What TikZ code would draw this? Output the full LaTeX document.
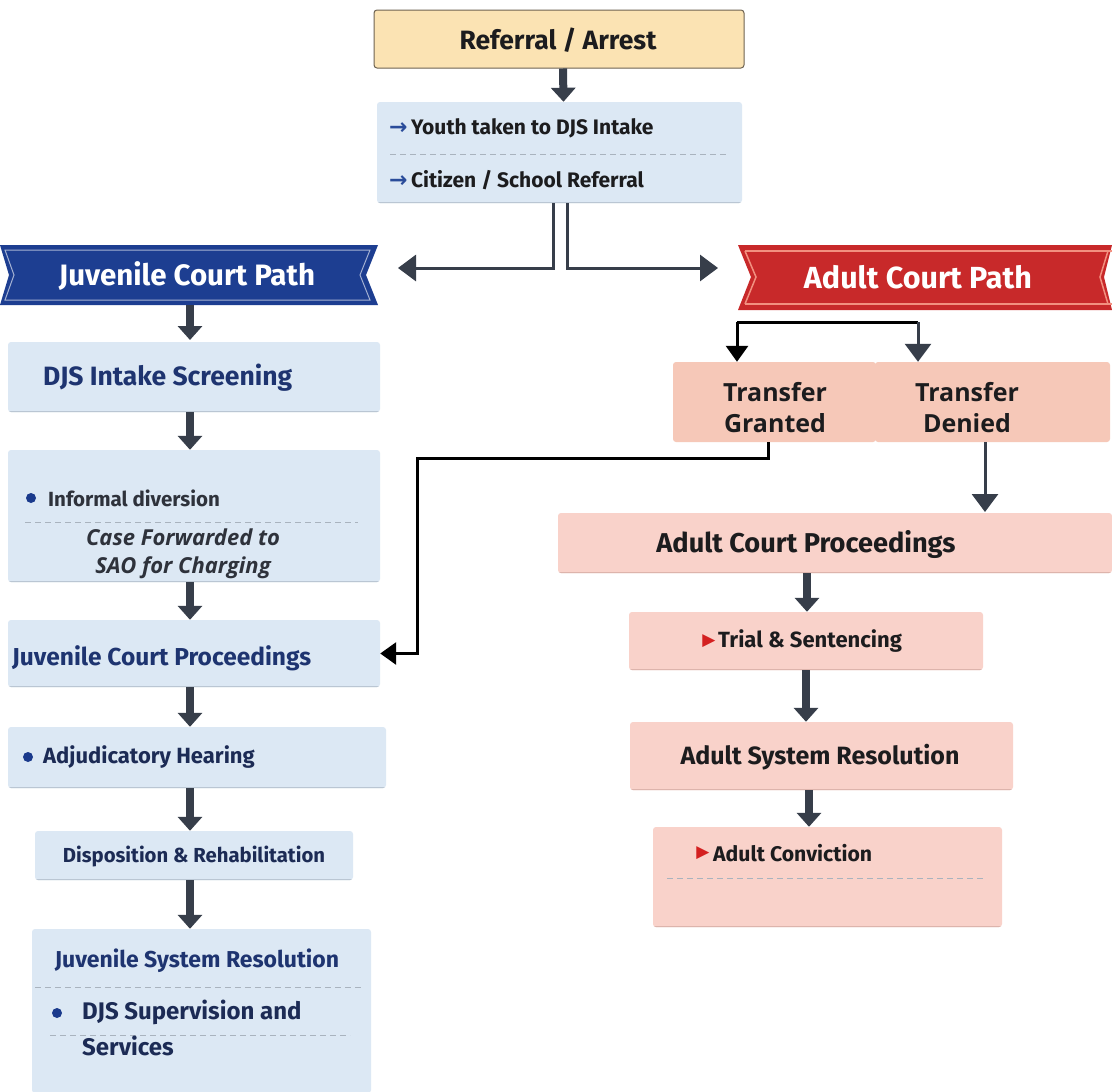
\documentclass[tikz,border=0pt]{standalone}
\usepackage{fontspec}
\setmainfont{Fira Sans}
\newfontfamily\osans{Open Sans}
\newfontfamily\djv{DejaVu Sans}
\usetikzlibrary{arrows.meta,calc}
\definecolor{lb}{HTML}{DCE8F4}
\definecolor{pk}{HTML}{F9D2CA}
\definecolor{sal}{HTML}{F6C8B8}
\definecolor{yel}{HTML}{FBE3B3}
\definecolor{yelb}{HTML}{6E6352}
\definecolor{navy}{HTML}{1D3E91}
\definecolor{navyt}{HTML}{1E3470}
\definecolor{navyd}{HTML}{1C2B55}
\definecolor{redr}{HTML}{C8292A}
\definecolor{redl}{HTML}{F29080}
\definecolor{arr}{HTML}{373E4A}
\definecolor{txt}{HTML}{1C1C1E}
\definecolor{gtxt}{HTML}{2E323B}
\definecolor{dsh}{HTML}{A9B3BE}
\definecolor{shb}{HTML}{BAC6D3}
\definecolor{shp}{HTML}{DDB4AC}
\definecolor{bul}{HTML}{1A3A8C}
\definecolor{tri}{HTML}{D42020}
\definecolor{arrb}{HTML}{2A4C9A}
\newcommand{\rarr}{{\djv\bfseries\color{arrb}\fontsize{22}{22}\selectfont →}}
\begin{document}
\begin{tikzpicture}[x=1pt,y=-1pt,
  box/.style={rectangle, rounded corners=3pt, inner sep=0pt, draw=none},
  bluebox/.style={box, fill=lb, path picture={\draw[line width=2.5pt, shb] (path picture bounding box.south west) -- (path picture bounding box.south east);}},
  pinkbox/.style={box, fill=pk, path picture={\draw[line width=2.5pt, shp] (path picture bounding box.south west) -- (path picture bounding box.south east);}},
  fat/.style={draw=arr, line width=8pt, -{Triangle[width=24pt,length=14pt]}},
  conn/.style={draw=arr, line width=3pt, -{Triangle[width=26pt,length=18pt]}},
  bconn/.style={draw=black, line width=3pt, -{Triangle[width=22pt,length=16pt]}},
  sep/.style={draw=dsh, line width=1pt, dash pattern=on 6pt off 4pt},
  dot/.style={circle, fill=bul, inner sep=0pt, minimum size=10pt},
  tmark/.style={inner sep=0pt, text=tri, font=\djv\fontsize{17}{17}\selectfont},
  t/.style={inner sep=0pt, font=\bfseries},
]
\useasboundingbox (0,0) rectangle (1112,1092);
\fill[white] (0,0) rectangle (1112,1092);

% ---------------- top
\node[box, fill=yel, draw=yelb, line width=1pt, minimum width=370pt, minimum height=58pt] (ref) at (559,39) {};
\node[t, text=txt, font=\bfseries\fontsize{26.5}{30}\selectfont] (reft) at (558,40) {Referral / Arrest};

\node[bluebox, minimum width=365pt, minimum height=101pt] (intake) at (559.5,152.5) {};
\node[t, anchor=west, text=txt, font=\bfseries\fontsize{21}{25}\selectfont] (in1) at (389,128) {\rarr\,Youth taken to DJS Intake};
\draw[sep] (390,154) -- (728,154);
\node[t, anchor=west, text=txt, font=\bfseries\fontsize{21}{25}\selectfont] (in2) at (389,180) {\rarr\,Citizen / School Referral};

\draw[fat] ([xshift=4pt]ref.south) -- ([xshift=4pt]intake.north);

% ---------------- ribbons
\fill[navy] (0,245) -- (378,245) -- (366,275) -- (378,305) -- (0,305) -- (9,275) -- cycle;
\draw[white!60!navy, line width=1pt] (5,250) -- (370,250) -- (360,275) -- (370,300) -- (5,300) -- (14,275) -- cycle;
\node[t, text=white, font=\bfseries\fontsize{29.5}{32}\selectfont] (juv) at (187,276) {Juvenile Court Path};

\fill[redr] (738,245) -- (1112,245) -- (1104,277) -- (1112,310) -- (738,310) -- (751,277) -- cycle;
\draw[redl, line width=1.5pt] (745,251) -- (1112,251);
\draw[redl, line width=1.5pt] (745,304) -- (1112,304);
\draw[redl, line width=1.5pt] (745,251) -- (756,277) -- (745,304);
\draw[redl, line width=1.5pt] (1108,251) -- (1100,277) -- (1108,304);
\node[t, text=white, font=\bfseries\fontsize{30.5}{32}\selectfont] (adu) at (918,277) {Adult Court Path};

% split connectors
\coordinate (jl) at (398,268);
\coordinate (ar) at (718,268);
\draw[conn] ([xshift=-6.5pt]intake.south) |- (jl);
\draw[conn] ([xshift=7.5pt]intake.south) |- (ar);

% ---------------- juvenile column
\node[bluebox, minimum width=372pt, minimum height=70pt] (scr) at (194,377) {};
\node[t, anchor=west, text=navyt, font=\bfseries\fontsize{26.5}{30}\selectfont] (scrt) at (43,378) {DJS Intake Screening};
\draw[fat] (190,305) -- (190,340);

\node[bluebox, minimum width=372pt, minimum height=132pt] (div) at (194,516) {};
\node[dot] (d1) at (31,498) {};
\node[t, anchor=west, text=gtxt, font=\bfseries\fontsize{20.5}{24}\selectfont] (divt) at (48,498) {Informal diversion};
\draw[sep] (25,522) -- (358,522);
\node[inner sep=0pt, text=gtxt, align=center, font=\osans\bfseries\itshape\fontsize{22}{28}\selectfont] (saot) at (183,554) {Case Forwarded to\\SAO for Charging};
\draw[fat] (scr.south -| 190,0) -- (div.north -| 190,0);

\node[bluebox, minimum width=372pt, minimum height=67pt] (jcp) at (194,653.5) {};
\node[t, anchor=west, text=navyt, font=\bfseries\fontsize{24.5}{28}\selectfont] (jcpt) at (12,658) {Juvenile Court Proceedings};
\draw[fat] (div.south -| 190,0) -- (jcp.north -| 190,0);

\node[bluebox, minimum width=378pt, minimum height=61pt] (adj) at (197,757.5) {};
\node[dot] (d2) at (28,757) {};
\node[t, anchor=west, text=navyd, font=\bfseries\fontsize{22}{25}\selectfont] (adjt) at (43,757) {Adjudicatory Hearing};
\draw[fat] (jcp.south -| 190,0) -- (adj.north -| 190,0);

\node[bluebox, minimum width=318pt, minimum height=49pt] (dis) at (194,855.5) {};
\node[t, text=navyd, font=\bfseries\fontsize{20.3}{24}\selectfont] (dist) at (194,857) {Disposition \& Rehabilitation};
\draw[fat] (adj.south -| 190,0) -- (dis.north -| 190,0);

\node[bluebox, minimum width=339pt, minimum height=164pt] (jsr) at (201.5,1011) {};
\node[t, text=navyt, font=\bfseries\fontsize{23}{26}\selectfont] (jsrt) at (197,961) {Juvenile System Resolution};
\draw[sep] (35,987) -- (362,987);
\node[dot] (d3) at (57,1013) {};
\node[t, anchor=west, text=navyd, font=\bfseries\fontsize{24}{27}\selectfont] (jsr1) at (82,1012) {DJS Supervision and};
\draw[sep] (50,1035) -- (350,1035);
\node[t, anchor=west, text=navyd, font=\bfseries\fontsize{24}{27}\selectfont] (jsr2) at (82,1046) {Services};
\draw[fat] (dis.south -| 190,0) -- (jsr.north -| 190,0);

% ---------------- adult column
\coordinate (bl) at (737,322);
\coordinate (br) at (918,322);
\node[box, fill=sal, minimum width=203pt, minimum height=80pt] (tg) at (774.5,402) {};
\node[box, fill=sal, minimum width=235pt, minimum height=80pt] (td) at (992.5,402) {};
\node[inner sep=0pt, text=txt, align=center, font=\osans\bfseries\fontsize{25}{31}\selectfont] (tgt) at (775,408) {Transfer\\Granted};
\node[inner sep=0pt, text=txt, align=center, font=\osans\bfseries\fontsize{25}{31}\selectfont] (tdt) at (967,408) {Transfer\\Denied};
\draw[black, line width=3pt] (bl) -- (br);
\draw[bconn] (bl) -- (bl |- tg.north);
\draw[conn] (br) -- (br |- tg.north);

\node[pinkbox, minimum width=554pt, minimum height=60pt] (acp) at (835,543) {};
\node[t, text=txt, font=\bfseries\fontsize{27.2}{30}\selectfont] (acpt) at (806,544) {Adult Court Proceedings};

\draw[bconn] (768,442) -- (768,458) -- (417,458) |- (jcp.east);
\draw[conn] (985,442) -- (985,512);

\node[pinkbox, minimum width=354pt, minimum height=58pt] (tri) at (806,641) {};
\node[tmark] (m1) at (709,641) {▶};
\node[t, anchor=west, text=txt, font=\bfseries\fontsize{22}{25}\selectfont] (trit) at (718,641) {Trial \& Sentencing};
\draw[fat] (acp.south -| 807,0) -- (tri.north -| 807,0);

\node[pinkbox, minimum width=383pt, minimum height=68pt] (asr) at (821.5,756) {};
\node[t, text=txt, font=\bfseries\fontsize{25}{28}\selectfont] (asrt) at (820,757) {Adult System Resolution};
\draw[fat] (tri.south -| 806,0) -- (asr.north -| 806,0);

\node[pinkbox, minimum width=349pt, minimum height=100pt] (ac) at (827.5,877) {};
\node[tmark] (m2) at (703,853) {▶};
\node[t, anchor=west, text=txt, font=\bfseries\fontsize{21.2}{24}\selectfont] (act) at (713,853) {Adult Conviction};
\draw[sep] (667,878) -- (985,878);
\draw[fat] (asr.south -| 809,0) -- (ac.north -| 809,0);
\end{tikzpicture}
\end{document}
